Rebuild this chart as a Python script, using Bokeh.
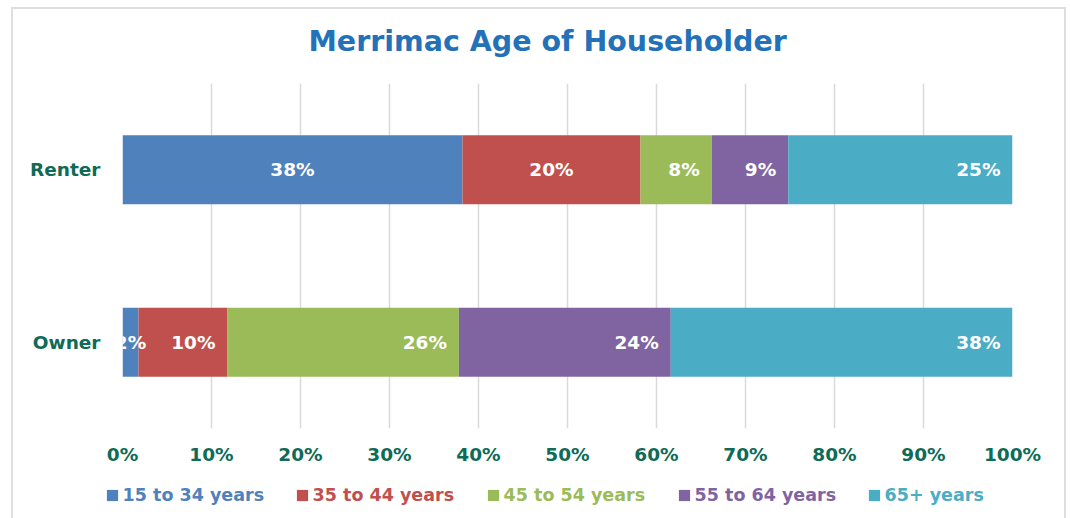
from bokeh.plotting import figure
from bokeh.layouts import column
from bokeh.models import (ColumnDataSource, FactorRange, Range1d, FixedTicker,
                          PrintfTickFormatter, Legend, LegendItem, Title)
from bokeh.core.properties import value
from bokeh.embed import file_html
from bokeh.resources import INLINE

# ---------------- data ----------------
categories = ["Owner", "Renter"]
series = ["15 to 34 years", "35 to 44 years", "45 to 54 years", "55 to 64 years", "65+ years"]
renter = [38.2, 20.0, 8.0, 8.6, 25.2]
owner = [1.8, 10.0, 26.0, 23.8, 38.4]
x_ticks = [0, 10, 20, 30, 40, 50, 60, 70, 80, 90, 100]
title_text = "Merrimac Age of Householder"

# ---------------- style ----------------
colors = ["#4F81BD", "#C0504D", "#9BBB59", "#8064A2", "#4BACC6"]
label_modes = {"Renter": ["center", "center", "end", "end", "end"],
               "Owner": ["center", "end", "end", "end", "end"]}
FONT = "DejaVu Sans"
GREEN = "#0E6B57"
W = 1051
LEG_H = 39
legend_x = [91.6, 281.6, 472.6, 663.6, 853.6]
legend_y = 13.5

p = figure(width=W, height=470, y_range=FactorRange(factors=categories, range_padding=0),
           x_range=Range1d(0, 100), output_backend="svg", toolbar_location=None,
           min_border_left=109, min_border_right=52, min_border_top=74, min_border_bottom=51)
p.title = None
p.add_layout(Title(text=" ", text_font_size="8px", standoff=10), "above")
p.add_layout(Title(text=title_text, align="left", offset=186, text_font=FONT,
                   text_font_size="28.5px", text_font_style="bold", text_color="#2372B9"), "above")

p.outline_line_color = None
p.ygrid.grid_line_color = None
p.xgrid.ticker = FixedTicker(ticks=x_ticks)
p.xgrid.grid_line_color = "#D9D9D9"
p.xgrid.grid_line_width = 1.5

p.xaxis.ticker = FixedTicker(ticks=x_ticks)
p.xaxis.formatter = PrintfTickFormatter(format="%d%%")
for ax in (p.xaxis[0], p.yaxis[0]):
    ax.axis_line_color = None
    ax.major_tick_line_color = None
    ax.minor_tick_line_color = None
    ax.major_tick_in = 0
    ax.major_tick_out = 0
    ax.major_label_text_font = FONT
    ax.major_label_text_font_style = "bold"
    ax.major_label_text_font_size = "18.5px"
    ax.major_label_text_color = GREEN
p.xaxis.major_label_standoff = 15
p.yaxis.major_label_standoff = 22

vals = {"Owner": owner, "Renter": renter}
cum = {c: 0.0 for c in categories}
cx, cy, ct, ex, ey, et = [], [], [], [], [], []
for i, s in enumerate(series):
    lefts = [cum[c] for c in categories]
    rights = [cum[c] + vals[c][i] for c in categories]
    src = ColumnDataSource(dict(y=categories, left=lefts, right=rights))
    p.hbar(y="y", left="left", right="right", height=0.4, source=src,
           fill_color=colors[i], line_color=None)
    for c, l, rr in zip(categories, lefts, rights):
        txt = f"{round(vals[c][i])}%"
        if label_modes[c][i] == "center":
            cx.append((l + rr) / 2); cy.append(c); ct.append(txt)
        else:
            ex.append(rr); ey.append(c); et.append(txt)
        cum[c] = rr

p.text(x=cx, y=cy, text=ct, text_align="center", text_baseline="middle",
       text_font=value(FONT), text_font_style="bold", text_font_size="18.5px", text_color="white")
p.text(x=ex, y=ey, text=et, text_align="right", text_baseline="middle", x_offset=-12,
       text_font=value(FONT), text_font_style="bold", text_font_size="18.5px", text_color="white")

# ---------------- legend strip ----------------
lf = figure(width=W, height=LEG_H, x_range=Range1d(0, W), y_range=Range1d(0, LEG_H),
            output_backend="svg", toolbar_location=None, x_axis_location=None,
            y_axis_location=None, min_border=0)
lf.frame_align = False
p.frame_align = False
lf.outline_line_color = None
lf.grid.visible = False
for i, s in enumerate(series):
    # swatch proxy lying outside the visible range: only its legend entry shows
    proxy = lf.hbar(y=[-100], left=[0], right=[1], height=1, fill_color=colors[i], line_color=None)
    lg = Legend(items=[LegendItem(label=s, renderers=[proxy])],
                location=(legend_x[i], legend_y), orientation="horizontal",
                label_text_color=colors[i], label_text_font=FONT, label_text_font_style="bold",
                label_text_font_size="17.5px", glyph_width=14, glyph_height=14, label_height=11,
                label_standoff=4, padding=0, margin=0, spacing=0,
                border_line_color=None, background_fill_alpha=0)
    lf.add_layout(lg, "center")

layout = column(p, lf, spacing=0,
                styles={"margin-left": "13px", "margin-top": "9px",
                        "box-shadow": "0 0 0 2px #DEDEDE"})

open("out.html", "w").write(file_html(layout, INLINE))
